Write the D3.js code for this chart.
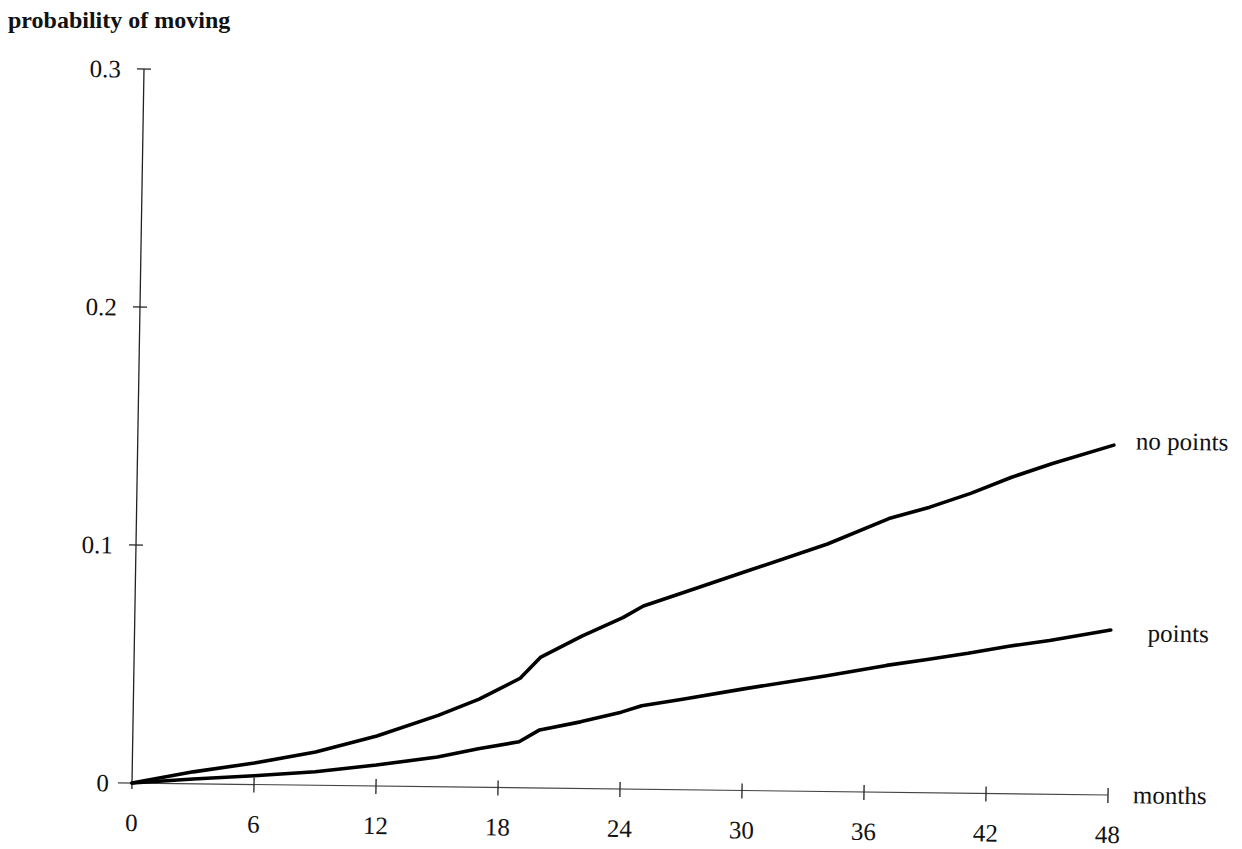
<!DOCTYPE html>
<html>
<head>
<meta charset="utf-8">
<script src="https://cdn.jsdelivr.net/npm/d3@7/dist/d3.min.js"></script>
<style>
  html, body { margin: 0; padding: 0; background: #fff; }
  svg { display: block; }
  text { font-family: "Liberation Serif", "Times New Roman", serif; fill: #111; }
</style>
</head>
<body>
<svg id="chart" width="1242" height="849"></svg>
<script>
// ---- data ----
const months   = [0, 3, 6, 9, 12, 15, 17, 19, 20, 22, 24, 25, 27, 30, 34, 37, 39, 41, 43, 45, 48];
const noPoints = [0, 0.005, 0.009, 0.014, 0.021, 0.030, 0.037, 0.046, 0.055, 0.064, 0.072, 0.077, 0.083, 0.092, 0.104, 0.115, 0.120, 0.126, 0.133, 0.139, 0.147];
const points   = [0, 0.002, 0.0037, 0.0057, 0.0088, 0.0125, 0.0162, 0.0193, 0.0244, 0.028, 0.0323, 0.0351, 0.038, 0.0427, 0.0485, 0.0533, 0.056, 0.0588, 0.062, 0.0646, 0.0693];
const xTicks = [0, 6, 12, 18, 24, 30, 36, 42, 48];
const yTicks = [0, 0.1, 0.2, 0.3];
const yTickLabels = ["0", "0.1", "0.2", "0.3"];
const seriesNames = ["no points", "points"];
const titleText = "probability of moving";
const xAxisTitle = "months";

const svg = d3.select("#chart");
const FS = 25;

// title
svg.append("text").attr("x", 8).attr("y", 28)
  .style("font-size", "24px").style("font-weight", "bold").text(titleText);

// plot group (scan is slightly skewed)
const g = svg.append("g").attr("transform", "matrix(1,0.0123,-0.0168,1,132,783)");

const x = d3.scaleLinear().domain([0, 48]).range([0, 976]);
const y = d3.scaleLinear().domain([0, 0.3]).range([0, -714]);

// x axis
g.append("line").attr("x1", -14).attr("x2", x(48)).attr("y1", 0).attr("y2", 0)
  .attr("stroke", "#444").attr("stroke-width", 1.2);
g.selectAll(".xt").data(xTicks.slice(1)).join("line")
  .attr("x1", d => x(d)).attr("x2", d => x(d)).attr("y1", -7).attr("y2", 8)
  .attr("stroke", "#222").attr("stroke-width", 1.3);
g.selectAll(".xl").data(xTicks).join("text")
  .attr("x", d => x(d)).attr("y", 48).attr("text-anchor", "middle")
  .style("font-size", FS + "px").text(d => d);

// y axis
g.append("line").attr("x1", 0).attr("x2", 0).attr("y1", 6).attr("y2", y(0.3))
  .attr("stroke", "#222").attr("stroke-width", 1.3);
g.selectAll(".yt").data(yTicks.slice(1)).join("line")
  .attr("x1", -7).attr("x2", 7).attr("y1", d => y(d)).attr("y2", d => y(d))
  .attr("stroke", "#222").attr("stroke-width", 1.3);
g.selectAll(".yl").data(yTicks).join("text")
  .attr("x", -23).attr("y", d => y(d)).attr("dy", "0.35em").attr("text-anchor", "end")
  .style("font-size", FS + "px").text((d, i) => yTickLabels[i]);

// lines
const line = d3.line().x((d, i) => x(months[i])).y(d => y(d));
[noPoints, points].forEach(s => {
  g.append("path").attr("d", line(s)).attr("fill", "none")
    .attr("stroke", "#000").attr("stroke-width", 3.6)
    .attr("stroke-linejoin", "round").attr("stroke-linecap", "round");
});

// series labels
g.append("text").attr("x", x(48) + 22).attr("y", y(noPoints[noPoints.length - 1]) + 4)
  .style("font-size", FS + "px").text(seriesNames[0]);
g.append("text").attr("x", x(48) + 37).attr("y", y(points[points.length - 1]) + 11)
  .style("font-size", FS + "px").text(seriesNames[1]);
g.append("text").attr("x", x(48) + 25).attr("y", 8)
  .style("font-size", FS + "px").text(xAxisTitle);
</script>
</body>
</html>
